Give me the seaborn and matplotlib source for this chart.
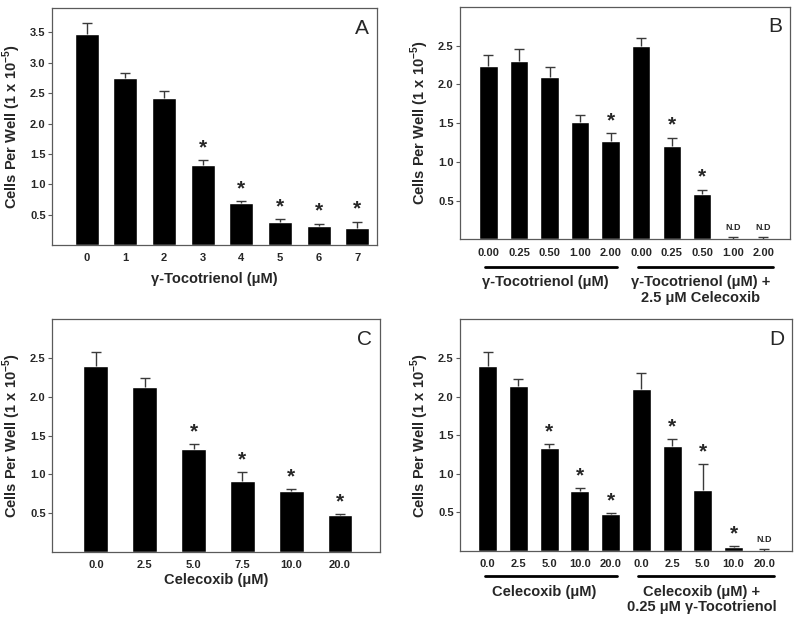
import numpy as np
import pandas as pd
import seaborn as sns
import matplotlib
matplotlib.use("Agg")
import matplotlib.pyplot as plt

# ========== data ==========
a_labels = ['0', '1', '2', '3', '4', '5', '6', '7']
a_means = [3.47, 2.75, 2.42, 1.31, 0.69, 0.38, 0.31, 0.28]
a_tops = [3.65, 2.83, 2.53, 1.40, 0.72, 0.42, 0.35, 0.38]
a_star = [0, 0, 0, 1, 1, 1, 1, 1]

b_labels = ['0.00', '0.25', '0.50', '1.00', '2.00', '0.00', '0.25', '0.50', '1.00', '2.00']
b_means = [2.24, 2.30, 2.09, 1.51, 1.27, 2.49, 1.21, 0.59, 0.0, 0.0]
b_tops = [2.38, 2.46, 2.23, 1.61, 1.37, 2.60, 1.31, 0.64, 0.03, 0.03]
b_star = [0, 0, 0, 0, 1, 0, 1, 1, 0, 0]
b_nd = [0, 0, 0, 0, 0, 0, 0, 0, 1, 1]

c_labels = ['0.0', '2.5', '5.0', '7.5', '10.0', '20.0']
c_means = [2.39, 2.13, 1.33, 0.91, 0.78, 0.48]
c_tops = [2.58, 2.24, 1.39, 1.03, 0.81, 0.49]
c_star = [0, 0, 1, 1, 1, 1]

d_labels = ['0.0', '2.5', '5.0', '10.0', '20.0', '0.0', '2.5', '5.0', '10.0', '20.0']
d_means = [2.39, 2.13, 1.33, 0.78, 0.48, 2.10, 1.36, 0.79, 0.05, 0.0]
d_tops = [2.58, 2.23, 1.38, 0.81, 0.49, 2.30, 1.45, 1.12, 0.06, 0.03]
d_star = [0, 0, 1, 1, 1, 0, 1, 1, 1, 0]
d_nd = [0, 0, 0, 0, 0, 0, 0, 0, 0, 1]

ylab = r'Cells Per Well (1 x 10$^{\mathbf{-5}}$)'

# ========== style ==========
sns.set_style("white")
plt.rcParams['font.family'] = ['Liberation Sans', 'DejaVu Sans']
plt.rcParams['font.weight'] = 'bold'
plt.rcParams['axes.labelweight'] = 'bold'
plt.rcParams['mathtext.fontset'] = 'custom'
plt.rcParams['mathtext.rm'] = 'Liberation Sans:bold'
plt.rcParams['mathtext.bf'] = 'Liberation Sans:bold'
plt.rcParams['axes.unicode_minus'] = True

FRAME = '#5a5a5a'
ERR = '#3a3a3a'

fig = plt.figure(figsize=(8, 6.28), dpi=100)


def panel(rect, labels, means, tops, stars, width, ylim, xlim, letter, yticks, nd=None):
    ax = fig.add_axes(rect)
    n = len(labels)
    df = pd.DataFrame({'pos': np.arange(n), 'val': means})
    sns.barplot(data=df, x='pos', y='val', color='black', saturation=1,
                width=width, errorbar=None, ax=ax)
    means = np.array(means)
    tops = np.array(tops)
    # upper-only error bars with a cap on top
    ax.vlines(np.arange(n), means, tops, color=ERR, lw=1)
    ax.plot(np.arange(n), tops, ls='none', marker='_', ms=7, mew=1, color=ERR)
    for i in range(n):
        if stars[i]:
            ax.annotate('*', (i, tops[i]), xytext=(0, 9), textcoords='offset points',
                        ha='center', va='center', fontsize=15, fontweight='bold')
        if nd is not None and nd[i]:
            ax.text(i, 0.155, 'N.D', ha='center', va='center', fontsize=6.5,
                    fontweight='bold')
    ax.set_xlim(*xlim)
    ax.set_ylim(*ylim)
    ax.set_yticks(yticks)
    ax.set_yticklabels(['%.1f' % t for t in yticks])
    ax.set_xticks(np.arange(n))
    ax.set_xticklabels(labels)
    ax.tick_params(axis='x', length=0, pad=6, labelsize=8)
    ax.tick_params(axis='y', length=3, width=0.8, color=FRAME, pad=1.5,
                   labelsize=8, direction='out', left=True)
    for s in ax.spines.values():
        s.set_color(FRAME)
        s.set_linewidth(0.9)
    ax.set_ylabel(ylab, fontsize=10.5, labelpad=5)
    ax.set_xlabel('')
    ax.text(1 - 15 / (rect[2] * 800), 1 - 20 / (rect[3] * 628), letter,
            transform=ax.transAxes, ha='center', va='center', fontsize=15,
            fontweight='normal')
    return ax


ax_a = panel([0.065, 0.610, 0.406, 0.377], a_labels, a_means, a_tops, a_star,
             0.62, (0, 3.9), (-0.9, 7.5), 'A', [0.5, 1.0, 1.5, 2.0, 2.5, 3.0, 3.5])
ax_a.set_xlabel('γ-Tocotrienol (μM)', fontsize=10.5, labelpad=6)

ax_b = panel([0.575, 0.619, 0.4125, 0.370], b_labels, b_means, b_tops, b_star,
             0.6, (0, 3.0), (-0.93, 9.87), 'B', [0.5, 1.0, 1.5, 2.0, 2.5], nd=b_nd)

ax_c = panel([0.065, 0.121, 0.41, 0.371], c_labels, c_means, c_tops, c_star,
             0.51, (0, 3.0), (-0.9, 5.82), 'C', [0.5, 1.0, 1.5, 2.0, 2.5])
ax_c.set_xlabel('Celecoxib (μM)', fontsize=10.5, labelpad=2)

ax_d = panel([0.575, 0.1226, 0.415, 0.369], d_labels, d_means, d_tops, d_star,
             0.62, (0, 3.0), (-0.9, 9.9), 'D', [0.5, 1.0, 1.5, 2.0, 2.5], nd=d_nd)


def group_labels(ax, line_y, text_y, left_text, right_text):
    tr = ax.get_xaxis_transform()
    ax.plot([-0.1, 4.2], [line_y, line_y], color='black', lw=2, transform=tr, clip_on=False)
    ax.plot([4.9, 9.3], [line_y, line_y], color='black', lw=2, transform=tr, clip_on=False)
    ax.text(1.85, text_y, left_text, transform=tr, ha='center', va='top',
            fontsize=10.5, fontweight='bold')
    ax.text(6.95, text_y, right_text, transform=tr, ha='center', va='top',
            fontsize=10.5, fontweight='bold', linespacing=1.15)


group_labels(ax_b, -0.12, -0.155, 'γ-Tocotrienol (μM)',
             'γ-Tocotrienol (μM) +\n2.5 μM Celecoxib')
group_labels(ax_d, -0.108, -0.145, 'Celecoxib (μM)',
             'Celecoxib (μM) +\n0.25 μM γ-Tocotrienol')

fig.savefig('out.png', dpi=100)
